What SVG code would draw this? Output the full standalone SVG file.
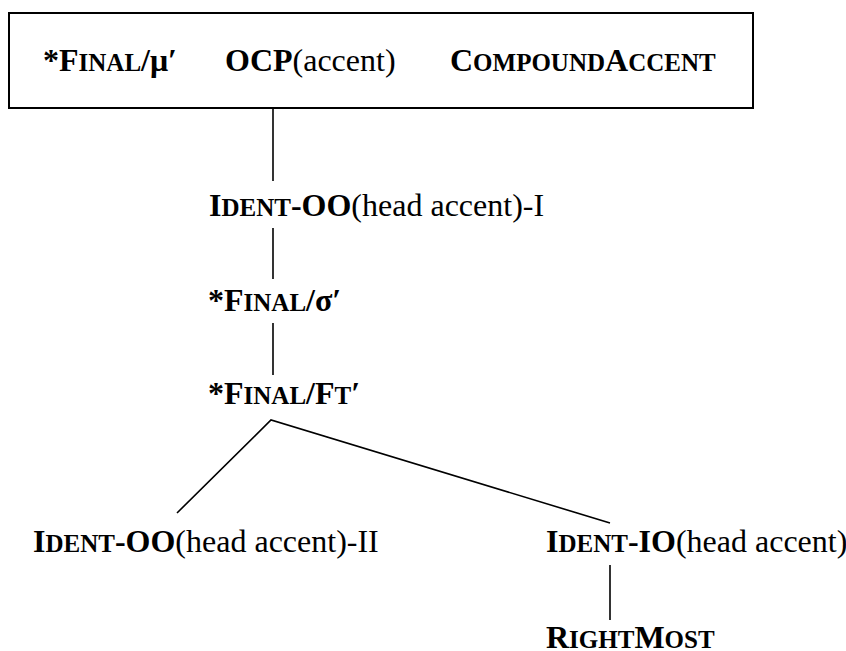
<svg xmlns="http://www.w3.org/2000/svg" width="846" height="651" viewBox="0 0 846 651">
<style>
text{font-family:"Liberation Serif","Times New Roman",serif;font-size:32px;fill:#000}
.b{font-weight:bold}
.sc{font-size:25px}
.ln{stroke:#000;stroke-width:1.6;fill:none}
</style>
<rect x="0" y="0" width="846" height="651" fill="#fff"/>
<g id="top">
<rect x="9" y="13" width="744" height="95" fill="#fff" stroke="#000" stroke-width="2"/>
<text x="43" y="71" class="b">*F<tspan class="sc">INAL</tspan>/μ′</text>
<text x="225" y="71"><tspan class="b">OCP</tspan>(accent)</text>
<text x="450" y="71" class="b">C<tspan class="sc">OMPOUND</tspan>A<tspan class="sc">CCENT</tspan></text>
</g>
<g id="identOO1">
<text x="209" y="216"><tspan class="b">I<tspan class="sc">DENT</tspan>-OO</tspan>(head accent)-I</text>
</g>
<g id="finalSigma">
<text x="208" y="311" class="b">*F<tspan class="sc">INAL</tspan>/σ′</text>
</g>
<g id="finalFt">
<text x="208" y="404" class="b">*F<tspan class="sc">INAL</tspan>/F<tspan class="sc">T</tspan>′</text>
</g>
<g id="identOO2">
<text x="33" y="552"><tspan class="b">I<tspan class="sc">DENT</tspan>-OO</tspan>(head accent)-II</text>
</g>
<g id="identIO">
<text x="546" y="552"><tspan class="b">I<tspan class="sc">DENT</tspan>-IO</tspan>(head accent)</text>
</g>
<g id="rightmost">
<text x="546" y="648" class="b">R<tspan class="sc">IGHT</tspan>M<tspan class="sc">OST</tspan></text>
</g>
<g id="connectors">
<line class="ln" x1="273" y1="108" x2="273" y2="181"/>
<line class="ln" x1="273" y1="228" x2="273" y2="279"/>
<line class="ln" x1="273" y1="323" x2="273" y2="375"/>
<polyline class="ln" points="177,513 271,420 610,523"/>
<line class="ln" x1="610" y1="565" x2="610" y2="620"/>
</g>
</svg>
